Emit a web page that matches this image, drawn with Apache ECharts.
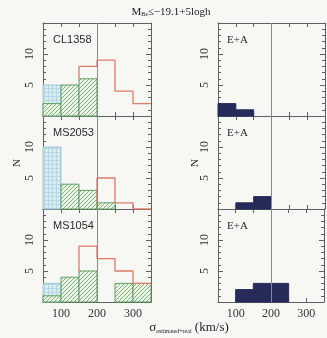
<!DOCTYPE html>
<html>
<head>
<meta charset="utf-8">
<script src="https://cdn.jsdelivr.net/npm/echarts@6/dist/echarts.min.js"></script>
<style>
  html, body { margin: 0; padding: 0; background: #f7f7f4; }
  #chart { width: 327px; height: 338px; }
</style>
</head>
<body>
<div id="chart"></div>
<script>
// bin starts (km/s), every bin is 50 wide
const binStarts = [50, 100, 150, 200, 250, 300];
const binWidth = 50;
const xTickLabels = [100, 200, 300];
const yTickLabels = [5, 10];

const clusters = ['CL1358', 'MS2053', 'MS1054'];

// all members, blue cross-hatched part
const blueCounts = [
  [5, 0, 0, 0, 0, 0],
  [10, 0, 0, 0, 0, 0],
  [3, 0, 0, 0, 0, 0]
];
// green hatched part
const greenCounts = [
  [2, 5, 6, 0, 0, 0],
  [0, 4, 3, 1, 0, 0],
  [1, 4, 5, 0, 3, 3]
];
// red outline histogram (null = not drawn)
const redCounts = [
  [null, null, 8, 9, 4, 2],
  [null, null, null, 5, 1, 0],
  [null, null, 9, 7, 5, 3]
];
// E+A galaxies
const eaCounts = [
  [2, 1, 0, 0, 0, 0],
  [0, 1, 2, 0, 0, 0],
  [0, 2, 3, 3, 0, 0]
];

const serif = '"Liberation Serif", "DejaVu Serif", serif';

function makePattern(bg, line, kind) {
  const c = document.createElement('canvas');
  const s = 4;
  c.width = s; c.height = s;
  const g = c.getContext('2d');
  g.fillStyle = bg;
  g.fillRect(0, 0, s, s);
  g.strokeStyle = line;
  g.lineWidth = 1;
  g.beginPath();
  if (kind === 'diag') {
    g.moveTo(-1, s + 1); g.lineTo(s + 1, -1);
    g.moveTo(-1, 1); g.lineTo(1, -1);
    g.moveTo(s - 1, s + 1); g.lineTo(s + 1, s - 1);
  } else {
    g.moveTo(0.5, 0); g.lineTo(0.5, s);
    g.moveTo(0, 0.5); g.lineTo(s, 0.5);
  }
  g.stroke();
  return {image: c, repeat: 'repeat'};
}

const greenFill = makePattern('#eef5e6', '#7cb57c', 'diag');
const blueFill = makePattern('#d8ebf1', '#b5d6e2', 'grid');

function histData(counts) {
  return binStarts
      .map((b, i) => [b, b + binWidth, 0, counts[i]])
      .filter(d => d[3] > 0);
}

function stepLine(red, green) {
  const pts = [];
  let first = true;
  binStarts.forEach((b, i) => {
    if (red[i] === null) return;
    if (first) { pts.push([b, green[i]]); first = false; }
    pts.push([b, red[i]], [b + binWidth, red[i]]);
  });
  return pts;
}

function rectItem(fill, stroke) {
  return function (params, api) {
    const p0 = api.coord([api.value(0), api.value(3)]);
    const p1 = api.coord([api.value(1), api.value(2)]);
    return {
      type: 'rect',
      shape: {x: p0[0], y: p0[1], width: p1[0] - p0[0], height: p1[1] - p0[1]},
      style: {fill: fill, stroke: stroke, lineWidth: 1}
    };
  };
}

const frameColor = '#5f5f5f';
const lefts = [43, 218];
const tops = [23, 116, 209];
const grids = [], xAxes = [], yAxes = [], series = [];

for (let col = 0; col < 2; col++) {
  for (let row = 0; row < 3; row++) {
    const p = grids.length;
    grids.push({left: lefts[col], top: tops[row], width: col === 0 ? 108 : 107, height: 93});
    const bottomRow = row === 2;
    [false, true].forEach(top => {
      xAxes.push({
        type: 'value', gridIndex: p, min: 50, max: 350, interval: 50,
        position: top ? 'top' : 'bottom',
        axisLine: {show: true, onZero: false, lineStyle: {color: frameColor, width: 1}},
        axisTick: {show: true, inside: true, length: 4, lineStyle: {color: frameColor, width: 1}},
        splitLine: {show: false},
        axisLabel: {
          show: !top && bottomRow, margin: 6,
          fontFamily: serif, fontSize: 12, color: '#333',
          formatter: v => xTickLabels.includes(v) ? String(v) : ''
        }
      });
    });
    [false, true].forEach(right => {
      yAxes.push({
        type: 'value', gridIndex: p, min: 0, max: 15, interval: 5,
        position: right ? 'right' : 'left',
        axisLine: {show: true, onZero: false, lineStyle: {color: frameColor, width: 1}},
        axisTick: {show: true, inside: true, length: 5, lineStyle: {color: frameColor, width: 1}},
        minorTick: {show: true, splitNumber: 5, length: 3, lineStyle: {color: frameColor, width: 1}},
        splitLine: {show: false},
        minorSplitLine: {show: false},
        axisLabel: {
          show: !right, rotate: 90, margin: 7,
          fontFamily: serif, fontSize: 12, color: '#333',
          formatter: v => yTickLabels.includes(v) ? String(v) : ''
        }
      });
    });

    const axisIdx = {xAxisIndex: 2 * p, yAxisIndex: 2 * p};
    const vline = {
      silent: true, symbol: 'none', label: {show: false},
      lineStyle: {color: '#8a8a8a', width: 1, type: 'solid'},
      data: [{xAxis: 200}]
    };
    if (col === 0) {
      series.push({
        type: 'custom', ...axisIdx, z: 2,
        renderItem: rectItem(blueFill, '#9cc6d6'),
        encode: {x: [0, 1], y: [2, 3]},
        data: histData(blueCounts[row]),
        markLine: vline
      });
      series.push({
        type: 'custom', ...axisIdx, z: 3,
        renderItem: rectItem(greenFill, '#5f9e62'),
        encode: {x: [0, 1], y: [2, 3]},
        data: histData(greenCounts[row])
      });
      series.push({
        type: 'line', ...axisIdx, z: 4,
        symbol: 'none', animation: false,
        lineStyle: {color: '#e07a68', width: 1.3},
        data: stepLine(redCounts[row], greenCounts[row])
      });
    } else {
      series.push({
        type: 'custom', ...axisIdx, z: 2,
        renderItem: rectItem('#262b5a', '#262b5a'),
        encode: {x: [0, 1], y: [2, 3]},
        data: histData(eaCounts[row]),
        markLine: vline
      });
    }
  }
}

const labelStyle = {fontFamily: '"Liberation Sans", Arial, sans-serif', fontSize: 11, fill: '#2a2a2a'};
const graphics = [];
clusters.forEach((name, i) => {
  graphics.push({type: 'text', left: 53, top: tops[i] + 11, style: {text: name, ...labelStyle}});
  graphics.push({type: 'text', left: 227, top: tops[i] + 12,
    style: {text: 'E+A', fontFamily: serif, fontSize: 11, fill: '#2a2a2a'}});
});
const rich = {
  m: {fontFamily: serif, fontSize: 11, fill: '#222'},
  s: {fontFamily: serif, fontSize: 6, fill: '#222', padding: [5, 0, 0, 0]}
};
graphics.push({
  type: 'text', x: 171, y: 12,
  style: {text: '{m|M}{s|Bz}{m|≤−19.1+5logh}', rich: rich, align: 'center', verticalAlign: 'middle'}
});
graphics.push({
  type: 'text', x: 189, y: 328,
  style: {text: '{m|σ}{s|estimated+real}{m| (km/s)}', rich: {
    m: {fontFamily: serif, fontSize: 13, fill: '#222'},
    s: {fontFamily: serif, fontSize: 6, fill: '#222', padding: [7, 0, 0, 0]}
  }, align: 'center', verticalAlign: 'middle'}
});
[17, 195].forEach(x => {
  graphics.push({
    type: 'text', x: x, y: 163, rotation: Math.PI / 2,
    style: {text: 'N', fontFamily: serif, fontSize: 11, fill: '#222', align: 'center', verticalAlign: 'middle'}
  });
});

const chart = echarts.init(document.getElementById('chart'), null, {renderer: 'canvas'});
chart.setOption({
  backgroundColor: '#f7f7f4',
  animation: false,
  grid: grids,
  xAxis: xAxes,
  yAxis: yAxes,
  series: series,
  graphic: graphics
});
</script>
</body>
</html>
